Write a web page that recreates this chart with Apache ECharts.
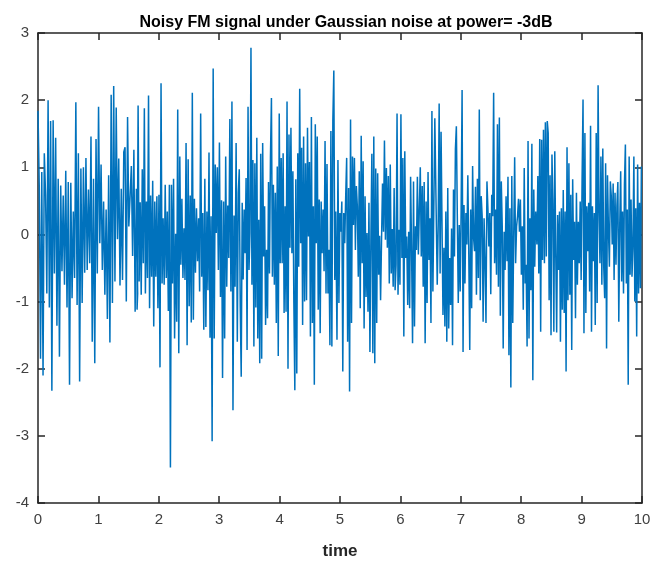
<!doctype html>
<html lang="en">
<head>
    <meta charset="UTF-8">
    <title>Noisy FM signal</title>
    <script src="https://cdn.jsdelivr.net/npm/echarts@6/dist/echarts.min.js"></script>
    <style>
        html, body {
            margin: 0;
            padding: 0;
            background-color: #ffffff;
        }

        #mainChart {
            width: 669px;
            height: 565px;
        }
    </style>
</head>
<body>
<div id="mainChart"></div>
<script>
    // values, one block per stretch of the time axis
    let seg1 = [1.84, 0.72, -1.85, 0.93, -2.10, 1.21, 0.59, -0.88, 2.00, -1.09,
        1.69, -2.33, 1.70, -0.58, 1.44, -1.36, 0.83, -1.82, 0.73, -0.55,
        0.58, -0.75, 0.95, -1.09, 0.78, -2.24, 0.77, -0.95, 0.34, -0.65,
        1.97, -1.05, 1.21, -2.19, 0.98, -1.02, 1.00, -0.57, 1.14, -0.53,
        0.67, -0.43, 1.46, -1.60, 0.83, -1.92, 1.42, -0.58, 1.90, -0.13,
        1.04, -0.53, 0.49, -0.90, 0.37, -1.26, 0.88, -1.61, 2.08, -1.02,
        2.21, -0.70, 1.89, -0.07, 1.13, -0.76, 0.68, -0.68, 1.23, 1.30,
        -1.00, 1.75, 0.12, 0.57, 1.02, -0.32, 1.26, -1.15, 0.68, -0.88];
    let seg2 = [-1.12, 1.92, -0.70, 0.48, -0.90, 0.97, -0.43, 1.88, -0.88, 0.49,
        -0.65, 2.07, -1.10, 0.58, -0.63, 0.80, -1.37, 0.49, -0.63, 0.57,
        -1.10, 0.59, -1.98, 2.25, -0.73, 0.24, -0.75, 0.74, -0.65, 0.34,
        -1.14, 0.74, -3.47, 0.74, -0.73, 0.83, -1.55, 0.01, -1.30, 1.86,
        -1.77, 1.16, -0.45, 0.53, -0.65, 0.09, -0.68, 1.36, -1.65, 1.12,
        -1.07, 0.58, -1.31, 2.11, -1.27, 0.53, -0.57, 0.39, -0.40, 0.24,
        -0.85, 1.80, -0.63, 0.32, -1.42, 0.83, -1.38, 0.34, -0.83, 1.22,
        -1.54, 0.27, -3.08, 2.47, -1.55, 1.04, 0.02, 1.00, -0.53, 1.37,
        -0.93, 0.51, -2.14, 0.49, -1.55, 1.16, -0.78, 0.43, -0.35, 1.72,
        -0.85, 1.98, -2.62, 0.28, -0.78, 1.36];
    let seg3 = [-1.60, 0.62, 0.97, -1.07, -2.12, 0.47, -0.67, 0.37, -0.28, 0.84,
        -1.72, 1.90, -0.53, 0.02, 2.78, -0.75, 1.11, -1.67, 1.06, -1.09,
        1.44, -1.55, 0.22, -1.92, 1.20, -1.85, 1.36, -0.33, 0.42, -1.35,
        -0.23, -1.25, 0.78, -0.58, 1.15, 2.03, -0.63, 0.74, -0.75, 0.62,
        -1.32, 1.01, -1.81, 1.80, -0.43, 1.14, -0.43, 1.21, -1.17, 0.42,
        -1.15, 1.98, -2.00, 1.49, -0.20, 1.59, -0.28, 0.94, -1.02, -2.32,
        0.82, -2.07, 1.21, -0.48, 2.17, -0.13, 1.29, -1.35, 1.46, -1.00,
        1.06, -0.98, 1.59, -0.03, 1.08, -1.52, 1.75, -1.32, 0.42, -2.24,
        1.64, -0.13, 1.46, -1.12, 0.52, -1.47, 0.49, -0.28, 0.37, -0.55,
        1.39, -0.88, 1.05, -0.88, -0.23, -1.65, 1.54, -1.67, 1.69, 2.44,
        -0.68, 0.34];
    let seg4 = [-1.57, 1.11, -1.02, 0.32, 0.04, 0.49, -2.04, 0.32, -0.13, 0.57,
        1.14, -1.60, 0.69, -2.34, 1.71, -1.32, 1.16, 0.14, 1.14, -0.23,
        0.72, 0.42, -0.63, 0.94, -1.10, 1.47, -0.43, 1.09, -1.40, 0.57,
        -0.93, 0.02, -1.15, 0.47, -1.75, -0.07, 1.20, -1.77, 1.46, -1.92,
        0.98, -1.32, 0.91, -0.60, -0.02, -0.98, -0.08, 0.76, 0.04, 1.40,
        -0.08, 0.99, -0.20, 0.87, -0.73, 1.04, -0.58, 0.08, -0.78, 0.69,
        -0.83, -0.45, 1.80, -0.90, 0.07, -0.75, 1.79, -0.35, 1.14, -1.52,
        1.24, -0.35, -0.03, -1.05, 0.04, -1.10, 0.86, -0.25, -1.62, 0.79,
        -1.37, 0.12, -0.23, 0.86, -0.30, 0.37, 1.00, -0.33, 0.72, -0.78,
        0.78, -1.62, 0.49, -1.02, 0.93, -0.38, 0.24, -1.32, 1.84, -0.85,
        0.44, 1.73];
    let seg5 = [-0.75, 0.14, 1.95, -0.58, 1.53, 0.14, -1.20, -0.20, -1.37, 0.34,
        -1.60, 0.69, -1.40, -0.35, -1.05, 0.09, -1.65, 0.67, -0.33, 1.27,
        1.61, 0.27, -1.02, 0.14, -0.85, 0.37, 2.15, -1.75, 0.44, -0.73,
        0.32, -0.15, 0.88, -0.30, -1.72, 0.37, -1.10, 1.02, -0.05, -0.25,
        0.71, -0.90, 0.83, -0.65, 1.86, -0.98, 0.57, 0.27, -1.30, 0.24,
        -0.43, -1.32, 0.79, 0.39, -0.18, 0.32, -0.89, 0.59, 0.27, 2.11,
        -0.43, 0.37, -0.60, 1.64, -0.78, 1.74, -1.21, 0.79, 0.12, -1.70,
        0.04, -0.53, 0.57, -0.40, 0.86, -1.80, 0.39, -2.28, 0.87, -1.32,
        -0.03, 1.15, -0.43, 0.12, 0.27, 0.53, 0.04, 0.52, -0.60, 0.12,
        -1.12, 0.99, -0.73, -0.45, -1.67, 1.39, -1.55, 0.24, -0.83, 1.35,
        -2.17, 0.67, -0.48, 0.34];
    let seg6 = [-0.15, 0.87, -0.58, 1.42, -1.45, 1.41, -0.38, 1.56, -0.43, 1.67,
        -0.33, 1.69, 1.51, -0.98, 0.88, -1.50, 1.19, 0.47, -1.45, 1.24,
        -0.28, -1.46, 0.29, -0.53, 0.34, -1.60, 0.39, -1.12, 0.66, -1.17,
        0.34, -2.04, 1.30, -0.98, 1.06, -0.90, 0.59, -1.72, 0.82, -0.38,
        0.19, -1.25, 0.62, -0.75, 0.19, -0.43, 0.49, -0.68, 0.81, 2.01,
        -1.47, 1.51, -1.17, 0.42, -0.25, 0.47, -0.85, 1.62, -1.45, 0.42,
        -0.40, 0.32, -1.35, 1.51, -1.02, 2.22, 0.34, -0.43, 1.16, -0.75,
        1.28, -0.48, -0.95, 1.06, -1.70, 0.88, 0.07, -0.48, 0.79, 0.57,
        -0.15, 0.76, -0.68, 0.62, -0.45, 0.42, 0.78, -1.30, 0.14, 0.94,
        -0.70, 0.34, -0.88, 0.74, 1.34, -0.73, 0.37, -2.24, 1.16, -0.60,
        0.52, -0.63, -0.20, 1.16, -1.00, 0.39, -1.52, 1.04, -0.88, 0.47,
        -0.80, 1.01];

    // time span covered by each block
    let segStart = [0.00, 1.64, 3.30, 4.95, 6.61, 8.26];
    let segEnd = [1.65, 3.28, 4.93, 6.57, 8.24, 9.99];

    let xTicks = [0, 1, 2, 3, 4, 5, 6, 7, 8, 9, 10];
    let yTicks = [-4, -3, -2, -1, 0, 1, 2, 3];

    function buildData() {
        let segs = [seg1, seg2, seg3, seg4, seg5, seg6];
        let out = [];
        for (let s = 0; s < segs.length; s++) {
            let vals = segs[s];
            let step = (segEnd[s] - segStart[s]) / (vals.length - 1);
            for (let i = 0; i < vals.length; i++) {
                out.push([segStart[s] + i * step, vals[i]]);
            }
        }
        return out;
    }

    function boxAxis(position, min, max, showLabel, font, axisColor) {
        return {
            type: 'value',
            position: position,
            min: min,
            max: max,
            interval: 1,
            axisLine: {show: true, onZero: false, lineStyle: {color: axisColor, width: 1.5}},
            axisTick: {show: true, inside: true, length: 7, lineStyle: {color: axisColor, width: 1.5}},
            axisLabel: {
                show: showLabel,
                fontFamily: font,
                fontSize: 15,
                color: '#404040',
                margin: 9
            },
            splitLine: {show: false}
        };
    }

    function chartInit() {
        let myChart = echarts.init(document.getElementById('mainChart'), null, {renderer: 'canvas'});
        let axisColor = '#262626';
        let font = 'Liberation Sans, Arial, sans-serif';

        let xBottom = boxAxis('bottom', xTicks[0], xTicks[xTicks.length - 1], true, font, axisColor);
        xBottom.name = 'time';
        xBottom.nameLocation = 'middle';
        xBottom.nameGap = 40;
        xBottom.nameTextStyle = {
            fontFamily: font,
            fontSize: 17,
            fontWeight: 'bold',
            color: axisColor
        };

        let option = {
            animation: false,
            backgroundColor: '#ffffff',
            title: {
                text: 'Noisy FM signal under Gaussian noise at power= -3dB',
                left: 341,
                top: 10,
                textAlign: 'center',
                textStyle: {
                    fontFamily: font,
                    fontSize: 16,
                    fontWeight: 'bold',
                    color: '#000000'
                }
            },
            grid: {
                left: 38,
                right: 27,
                top: 33,
                bottom: 62,
                containLabel: false
            },
            xAxis: [
                xBottom,
                boxAxis('top', xTicks[0], xTicks[xTicks.length - 1], false, font, axisColor)
            ],
            yAxis: [
                boxAxis('left', yTicks[0], yTicks[yTicks.length - 1], true, font, axisColor),
                boxAxis('right', yTicks[0], yTicks[yTicks.length - 1], false, font, axisColor)
            ],
            series: [{
                name: 'signal',
                type: 'line',
                data: buildData(),
                showSymbol: false,
                symbol: 'none',
                sampling: null,
                lineStyle: {color: '#0072BD', width: 1.5},
                itemStyle: {color: '#0072BD'}
            }]
        };

        option && myChart.setOption(option);
    }

    chartInit();
</script>
</body>
</html>
